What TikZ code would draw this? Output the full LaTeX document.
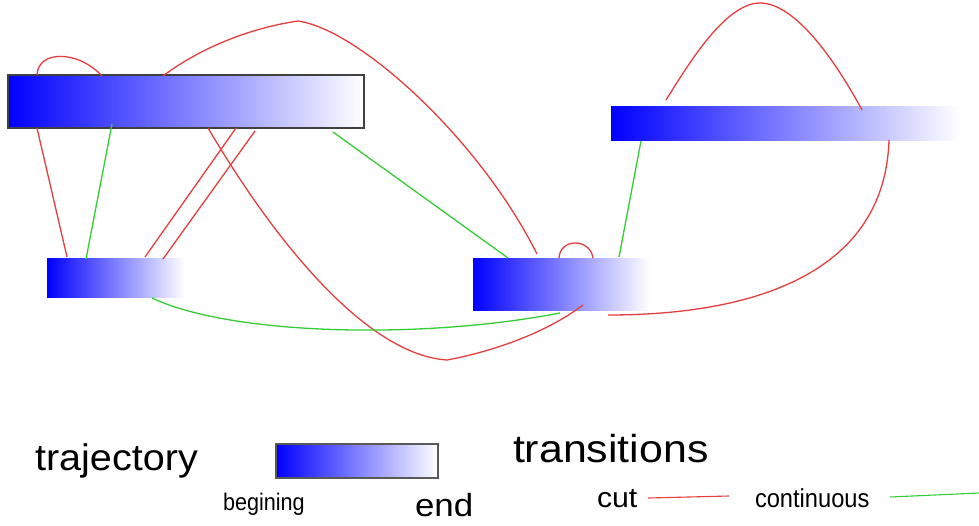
\documentclass[tikz,border=0pt]{standalone}
\usepackage{fontspec}
\usepackage{graphicx}
\setmainfont{Liberation Sans}
\usetikzlibrary{calc}
\definecolor{cutred}{RGB}{228,62,62}
\definecolor{contgreen}{RGB}{52,206,52}
\tikzset{
  trajbox/.style={inner sep=0pt, outer sep=0pt, left color=blue, right color=white, shading angle=90},
  framed/.style={trajbox, draw=black!75, line width=1.6pt},
  cutline/.style={draw=cutred, line width=1.3pt},
  contline/.style={draw=contgreen, line width=1.3pt},
  lbl/.style={inner sep=0pt, outer sep=0pt, anchor=base west}
}
\begin{document}
\begin{tikzpicture}[x=1pt,y=-1pt]
\useasboundingbox (0,0) rectangle (979,525);
\fill[white] (0,0) rectangle (979,525);
% trajectories
\node[framed, minimum width=356pt, minimum height=53pt] (A) at (186,101.5) {};
\node[trajbox, minimum width=138pt, minimum height=39pt] (B) at (116,277.5) {};
\node[trajbox, minimum width=177pt, minimum height=52pt] (C) at (561.5,284) {};
\node[trajbox, minimum width=349pt, minimum height=34pt] (D) at (785.5,123) {};
\coordinate (peakA) at (298,21);
\coordinate (lowAC) at (447,360);
% cut transitions
\draw[cutline] ($(A.north west)+(29,0)$) .. controls (38,50) and (78,50) .. ($(A.north west)+(94,1)$);
\draw[cutline] ($(A.north west)+(155,1)$) .. controls (200,48) and (250,28) .. (peakA)
   .. controls (360,30) and (480,140) .. ($(C.north west)+(64,-4)$);
\draw[cutline] ($(A.south west)+(29,0)$) -- ($(B.north west)+(20,-1)$);
\draw[cutline] ($(A.south west)+(228,0)$) -- ($(B.north west)+(98,-1)$);
\draw[cutline] ($(A.south west)+(247,3)$) -- ($(B.north west)+(116,1)$);
\draw[cutline] ($(A.south west)+(200,0)$) .. controls (280,250) and (370,355) .. (lowAC)
   .. controls (500,350) and (550,330) .. ($(C.south west)+(110,-5)$);
\draw[cutline] ($(C.north west)+(86,0)$) .. controls (560,238) and (590,238) .. ($(C.north west)+(120,0)$);
\draw[cutline] ($(D.north west)+(55,-6)$) .. controls (688,65) and (725,3) .. (760,3)
   .. controls (795,3) and (835,60) .. ($(D.north west)+(251,4)$);
\draw[cutline] ($(D.south west)+(278,0)$) .. controls (885,270) and (760,315) .. ($(C.south west)+(135,5)$);
% continuous transitions
\draw[contline] ($(A.south west)+(104,-4)$) -- ($(B.north west)+(39,1)$);
\draw[contline] ($(A.south west)+(325,4)$) -- ($(C.north west)+(35,0)$);
\draw[contline] ($(D.south west)+(30,1)$) -- ($(C.north west)+(146,-1)$);
\draw[contline] ($(B.south west)+(105,1)$) .. controls (230,335) and (420,340) .. ($(C.south west)+(87,3)$);
% legend
\node[lbl] (ltraj) at (35,470) {\fontsize{37}{40}\selectfont\scalebox{1.07}[1]{trajectory}};
\node[framed, draw=black!65, line width=1.5pt, minimum width=162pt, minimum height=34pt] (L) at (357,461) {};
\node[lbl] (lbeg) at (223,510) {\fontsize{24}{26}\selectfont\scalebox{0.9}[1]{begining}};
\node[lbl] (lend) at (415,516) {\fontsize{32}{36}\selectfont\scalebox{1.09}[1]{end}};
\node[lbl] (ltrans) at (513,462) {\fontsize{39}{42}\selectfont\scalebox{1.1}[1]{transitions}};
\node[lbl] (lcut) at (597,507) {\fontsize{28}{32}\selectfont\scalebox{1.08}[1]{cut}};
\node[lbl] (lcont) at (755,507) {\fontsize{26}{30}\selectfont\scalebox{0.91}[1]{continuous}};
\coordinate (cutS) at (648,498);
\coordinate (cutE) at (729,496);
\coordinate (contS) at (890,497);
\coordinate (contE) at (979,493);
\draw[cutline, line width=1.1pt] (cutS) -- (cutE);
\draw[contline, line width=1.1pt] (contS) -- (contE);
\end{tikzpicture}
\end{document}
